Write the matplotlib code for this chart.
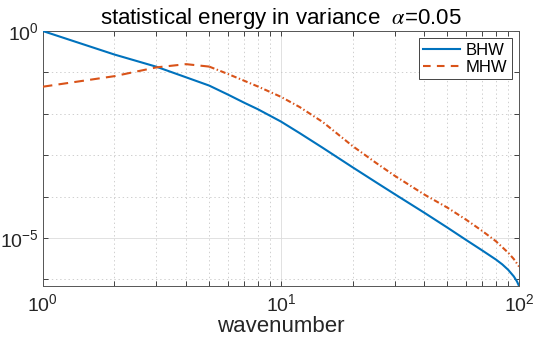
import matplotlib
matplotlib.use('Agg')
import matplotlib.pyplot as plt
from matplotlib.ticker import FixedLocator, FixedFormatter, NullFormatter
from matplotlib.lines import Line2D

plt.rcParams['font.family'] = ['Liberation Sans', 'DejaVu Sans']
plt.rcParams['mathtext.fontset'] = 'stix'
plt.rcParams['lines.scale_dashes'] = False

# ---- data ----
k_bhw = [1, 2, 3, 4, 5, 6, 7, 8, 10, 12, 15, 20, 25, 30, 40, 50, 60, 70, 80, 85, 90, 95, 98, 100]
e_bhw = [1.0, 0.27, 0.137, 0.076, 0.048, 0.029, 0.0186, 0.0129, 6.5e-3, 3.4e-3, 1.5e-3,
         5.1e-4, 2.24e-4, 1.15e-4, 4.07e-5, 1.78e-5, 8.9e-6, 5.0e-6, 3.0e-6, 2.3e-6,
         1.7e-6, 1.18e-6, 8.9e-7, 6.9e-7]

k_mhw = [1, 2, 3, 4, 5, 6, 7, 8, 10, 12, 15, 20, 25, 30, 40, 50, 60, 70, 80, 90, 95, 100]
e_mhw = [0.045, 0.081, 0.132, 0.158, 0.138, 0.0912, 0.0631, 0.0457, 0.0257, 0.0145, 6.3e-3,
         1.66e-3, 6.6e-4, 3.2e-4, 1.12e-4, 5.4e-5, 2.75e-5, 1.48e-5, 8.3e-6, 4.4e-6,
         3.1e-6, 2.04e-6]

series_names = ['BHW', 'MHW']
title_text = r'statistical energy in variance  $\alpha$=0.05'
xlabel_text = 'wavenumber'
x_major = [1, 10, 100]
x_major_labels = [r'$\mathregular{10^{0}}$', r'$\mathregular{10^{1}}$', r'$\mathregular{10^{2}}$']
x_minor = [2, 3, 4, 5, 6, 7, 8, 9, 20, 30, 40, 50, 60, 70, 80, 90]
y_major = [1e-5, 1e0]
y_major_labels = [r'$\mathregular{10^{-5}}$', r'$\mathregular{10^{0}}$']
y_minor = [1e-6, 1e-4, 1e-3, 1e-2, 1e-1]

blue = '#0072BD'
orange = '#D95319'
axc = '#262626'

fig = plt.figure(figsize=(5.35, 3.47), dpi=100)
ax = fig.add_axes([0.0798, 0.1758, 0.8904, 0.7349])
ax.set_xscale('log')
ax.set_yscale('log')

ax.plot(k_bhw, e_bhw, color=blue, lw=1.5, zorder=3)
# MHW: dashed at low wavenumbers, dash-dot further out (as rendered in the reference)
split = k_mhw.index(5)
ax.plot(k_mhw[:split + 1], e_mhw[:split + 1], color=orange, lw=1.5,
        dashes=(7, 4.5), zorder=3)
ax.plot(k_mhw[split:], e_mhw[split:], color=orange, lw=1.5,
        dashes=(4, 1.8, 1, 1.8), zorder=3)

ax.set_xlim(k_bhw[0], k_bhw[-1])
ax.set_ylim(e_bhw[-1], e_bhw[0])

ax.xaxis.set_major_locator(FixedLocator(x_major))
ax.xaxis.set_major_formatter(FixedFormatter(x_major_labels))
ax.xaxis.set_minor_locator(FixedLocator(x_minor))
ax.xaxis.set_minor_formatter(NullFormatter())
ax.yaxis.set_major_locator(FixedLocator(y_major))
ax.yaxis.set_major_formatter(FixedFormatter(y_major_labels))
ax.yaxis.set_minor_locator(FixedLocator(y_minor))
ax.yaxis.set_minor_formatter(NullFormatter())

ax.tick_params(which='both', direction='in', top=True, right=True,
               color=axc, width=0.6, labelcolor=axc)
ax.tick_params(which='major', length=3.3, labelsize=14)
ax.tick_params(which='minor', length=3.3)
ax.tick_params(axis='x', which='major', pad=5)
ax.tick_params(axis='y', which='major', pad=3)

ax.grid(True, which='major', color='#dcdcdc', lw=0.6, ls='-')
ax.grid(True, which='minor', color='#c8c8c8', lw=0.6, ls=(0, (1, 2)))
ax.set_axisbelow(True)

for s in ax.spines.values():
    s.set_color('#555555')
    s.set_linewidth(0.7)

ax.set_title(title_text, fontsize=16, color='black', pad=4)
ax.set_xlabel(xlabel_text, fontsize=16, color=axc, labelpad=1)

handles = [Line2D([], [], color=blue, lw=1.5),
           Line2D([], [], color=orange, lw=1.5, dashes=(5.5, 4.5))]
leg = ax.legend(handles, series_names, loc='upper right', fontsize=12,
                frameon=True, fancybox=False, framealpha=1, edgecolor=axc,
                borderaxespad=0.45, borderpad=0.25, labelspacing=0.15,
                handlelength=2.2, handletextpad=0.35)
leg.get_frame().set_linewidth(0.6)

fig.savefig('out.png', dpi=100)
